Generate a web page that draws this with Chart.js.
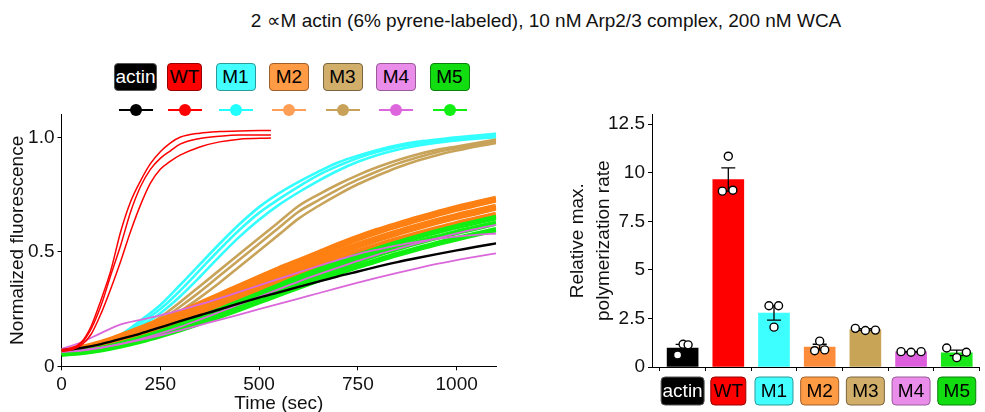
<!DOCTYPE html>
<html>
<head>
<meta charset="utf-8">
<script src="https://cdn.jsdelivr.net/npm/chart.js@4"></script>
<style>
  html, body { margin: 0; padding: 0; width: 985px; height: 412px; overflow: hidden; background: #fff;
    font-family: "Liberation Sans", Arial, sans-serif; color: #111; }
  #title { position: absolute; left: 196px; width: 700px; top: 10px; font-size: 19px; line-height: 22px; text-align: center; }
  #legend { position: absolute; left: 114px; top: 63px; display: flex; gap: 13.5px; }
  .item { display: flex; flex-direction: column; align-items: center; }
  .item:first-child { margin-right: -3.5px; }
  .box { box-sizing: border-box; height: 28px; line-height: 26px; border: 1px solid; border-radius: 4px;
    font-size: 19px; text-align: center; white-space: nowrap; }
  .key { position: relative; width: 34px; height: 12px; margin-top: 13px; }
  .key .line { position: absolute; left: 0; right: 0; top: 5px; height: 2px; }
  .key .dot { position: absolute; left: 11px; top: 0; width: 12px; height: 12px; border-radius: 50%; }
  #traces { position: absolute; left: 0; top: 100px; }
  #rates { position: absolute; left: 565px; top: 100px; }
</style>
</head>
<body>
<div id="title">2 ∝M actin (6% pyrene-labeled), 10 nM Arp2/3 complex, 200 nM WCA</div>
<div id="legend"></div>
<canvas id="traces" width="510" height="315"></canvas>
<canvas id="rates" width="420" height="312"></canvas>
<script>
// conditions
const categories = ['actin', 'WT', 'M1', 'M2', 'M3', 'M4', 'M5'];

// pyrene traces (normalized fluorescence)
const timeWT = [0, 25, 50, 75, 100, 125, 150, 175, 200, 225, 250, 275, 300, 350, 400, 450, 530];
const wtRep1 = [0.072, 0.080, 0.105, 0.175, 0.290, 0.420, 0.590, 0.720, 0.810, 0.885, 0.937, 0.975, 1.000, 1.018, 1.025, 1.028, 1.030];
const wtRep2 = [0.068, 0.076, 0.100, 0.163, 0.265, 0.400, 0.530, 0.675, 0.785, 0.860, 0.908, 0.940, 0.970, 0.995, 1.005, 1.010, 1.010];
const wtRep3 = [0.065, 0.072, 0.092, 0.140, 0.230, 0.340, 0.460, 0.590, 0.705, 0.800, 0.860, 0.895, 0.922, 0.958, 0.980, 0.992, 0.997];

const timeSec = [0, 50, 100, 150, 200, 250, 300, 350, 400, 450, 500, 550, 600, 650, 700, 750, 800, 850, 900, 950, 1000, 1050, 1100];
const actinTrace = [0.070, 0.080, 0.097, 0.120, 0.143, 0.170, 0.197, 0.223, 0.248, 0.275, 0.300, 0.323, 0.347, 0.370, 0.393, 0.414, 0.435, 0.455, 0.473, 0.490, 0.506, 0.522, 0.537];
const m1Rep1 = [0.058, 0.068, 0.094, 0.138, 0.200, 0.268, 0.355, 0.445, 0.535, 0.620, 0.695, 0.755, 0.805, 0.850, 0.890, 0.920, 0.945, 0.965, 0.980, 0.990, 1.000, 1.008, 1.015];
const m1Rep2 = [0.056, 0.065, 0.089, 0.130, 0.188, 0.250, 0.330, 0.420, 0.510, 0.595, 0.670, 0.730, 0.785, 0.835, 0.875, 0.910, 0.937, 0.958, 0.972, 0.984, 0.993, 1.000, 1.008];
const m1Rep3 = [0.054, 0.062, 0.084, 0.122, 0.175, 0.232, 0.305, 0.390, 0.480, 0.565, 0.640, 0.705, 0.760, 0.810, 0.855, 0.893, 0.923, 0.946, 0.963, 0.976, 0.986, 0.994, 1.000];
const m2Rep1 = [0.064, 0.078, 0.100, 0.130, 0.163, 0.197, 0.232, 0.270, 0.308, 0.347, 0.385, 0.422, 0.457, 0.492, 0.527, 0.560, 0.590, 0.617, 0.643, 0.667, 0.690, 0.710, 0.730];
const m2Rep2 = [0.062, 0.075, 0.095, 0.123, 0.153, 0.185, 0.217, 0.252, 0.288, 0.325, 0.360, 0.395, 0.430, 0.464, 0.497, 0.528, 0.557, 0.584, 0.609, 0.633, 0.655, 0.675, 0.695];
const m2Rep3 = [0.060, 0.072, 0.090, 0.116, 0.144, 0.173, 0.203, 0.236, 0.270, 0.304, 0.337, 0.370, 0.403, 0.436, 0.467, 0.497, 0.525, 0.551, 0.575, 0.598, 0.620, 0.640, 0.660];
const m3Rep1 = [0.060, 0.070, 0.090, 0.120, 0.162, 0.215, 0.280, 0.350, 0.420, 0.490, 0.560, 0.630, 0.700, 0.750, 0.795, 0.835, 0.870, 0.900, 0.925, 0.945, 0.960, 0.975, 0.990];
const m3Rep2 = [0.059, 0.068, 0.087, 0.115, 0.153, 0.200, 0.260, 0.325, 0.395, 0.465, 0.535, 0.605, 0.675, 0.725, 0.773, 0.815, 0.852, 0.885, 0.912, 0.935, 0.952, 0.968, 0.982];
const m3Rep3 = [0.058, 0.066, 0.083, 0.108, 0.143, 0.185, 0.240, 0.300, 0.365, 0.435, 0.505, 0.575, 0.645, 0.700, 0.750, 0.795, 0.833, 0.868, 0.898, 0.922, 0.942, 0.960, 0.975];
const m4Rep1 = [0.075, 0.105, 0.145, 0.183, 0.203, 0.222, 0.245, 0.270, 0.297, 0.325, 0.353, 0.382, 0.410, 0.438, 0.465, 0.490, 0.510, 0.528, 0.543, 0.556, 0.566, 0.574, 0.580];
const m4Rep2 = [0.062, 0.069, 0.081, 0.098, 0.119, 0.144, 0.172, 0.204, 0.237, 0.270, 0.303, 0.337, 0.370, 0.401, 0.431, 0.460, 0.488, 0.513, 0.537, 0.559, 0.580, 0.600, 0.618];
const m4Rep3 = [0.065, 0.070, 0.082, 0.097, 0.115, 0.135, 0.157, 0.180, 0.203, 0.226, 0.250, 0.273, 0.296, 0.319, 0.342, 0.365, 0.387, 0.408, 0.428, 0.447, 0.464, 0.479, 0.493];
const m5Rep1 = [0.056, 0.064, 0.078, 0.098, 0.122, 0.149, 0.179, 0.212, 0.246, 0.281, 0.316, 0.352, 0.387, 0.420, 0.452, 0.483, 0.512, 0.539, 0.564, 0.588, 0.610, 0.630, 0.650];
const m5Rep2 = [0.055, 0.062, 0.075, 0.094, 0.117, 0.142, 0.170, 0.201, 0.233, 0.266, 0.300, 0.334, 0.368, 0.400, 0.430, 0.460, 0.489, 0.515, 0.540, 0.563, 0.585, 0.605, 0.625];
const m5Rep3 = [0.054, 0.060, 0.072, 0.089, 0.110, 0.134, 0.160, 0.189, 0.219, 0.250, 0.282, 0.314, 0.346, 0.377, 0.407, 0.436, 0.463, 0.489, 0.513, 0.536, 0.557, 0.577, 0.597];

// relative max polymerization rate
const rateMean = [0.98, 9.65, 2.78, 1.02, 1.93, 0.78, 0.73];
const rateSem = [0.18, 0.60, 0.37, 0.15, 0.04, 0.01, 0.14];
const rateReps = [
  [0.62, 1.17, 1.14],
  [9.05, 10.85, 9.10],
  [3.15, 2.05, 3.15],
  [0.84, 1.33, 0.88],
  [1.99, 1.88, 1.90],
  [0.79, 0.76, 0.79],
  [0.98, 0.48, 0.76]
];
const rateJitter = [
  [-0.11, 0.01, 0.12],
  [-0.13, 0, 0.10],
  [-0.11, 0, 0.10],
  [-0.11, 0, 0.11],
  [-0.22, 0, 0.22],
  [-0.22, 0, 0.22],
  [-0.22, 0, 0.21]
];

// axis ticks
const timeTicks = [0, 250, 500, 750, 1000];
const fluorTicks = [0, 0.5, 1.0];
const rateTicks = [0, 2.5, 5, 7.5, 10, 12.5];

// styles
const traceColors = ['#000000', '#FF0000', '#33FFFF', '#FF8012', '#C8A35A', '#DA68DA', '#11EE11'];
const traceWidths = [2.4, 1.5, 2.6, 7, 2.6, 1.8, 5.5];
const barColors = ['#000000', '#FF0000', '#3DFFFF', '#FF8C3A', '#C8A456', '#DD5EDD', '#18E818'];
const boxFill = ['#000000', '#FF0000', '#44FFFF', '#FF9A45', '#D2AE6B', '#EA8CEA', '#11DD11'];
const boxEdge = ['#555555', '#990000', '#2A9A9A', '#A0602A', '#7A6540', '#9A5A9A', '#0A800A'];
const boxText = ['#FFFFFF', '#000000', '#000000', '#000000', '#000000', '#000000', '#000000'];
const markerColors = ['#000000', '#FF0000', '#22FFFF', '#FF9F55', '#C8A258', '#DD66DD', '#11EE11'];
const legendBoxWidths = [43, 35, 40, 40, 40, 40, 40];
const axisBoxWidths = [43, 35, 38, 38, 38, 38, 38];

const FONT = '"Liberation Sans", Arial, sans-serif';
Chart.defaults.font.family = FONT;
Chart.defaults.font.size = 19;
Chart.defaults.color = '#111';

// html legend above the traces
const legend = document.getElementById('legend');
categories.forEach((c, i) => {
  const item = document.createElement('div');
  item.className = 'item';
  item.innerHTML =
    '<div class="box" style="width:' + legendBoxWidths[i] + 'px;background:' + boxFill[i] +
    ';border-color:' + boxEdge[i] + ';color:' + boxText[i] + '">' + c + '</div>' +
    '<div class="key"><span class="line" style="background:' + markerColors[i] + '"></span>' +
    '<span class="dot" style="background:' + markerColors[i] + '"></span></div>';
  legend.appendChild(item);
});

// traces, listed top-most first
const toPoints = (t, v) => v.map((y, k) => ({ x: t[k], y: y }));
const traceGroups = [
  { cat: 1, time: timeWT, reps: [wtRep1, wtRep2, wtRep3] },
  { cat: 0, time: timeSec, reps: [actinTrace] },
  { cat: 5, time: timeSec, reps: [m4Rep1, m4Rep2, m4Rep3] },
  { cat: 6, time: timeSec, reps: [m5Rep1, m5Rep2, m5Rep3] },
  { cat: 3, time: timeSec, reps: [m2Rep1, m2Rep2, m2Rep3] },
  { cat: 4, time: timeSec, reps: [m3Rep1, m3Rep2, m3Rep3] },
  { cat: 2, time: timeSec, reps: [m1Rep1, m1Rep2, m1Rep3] }
];
const traceSets = [];
traceGroups.forEach(g => {
  g.reps.forEach(r => {
    traceSets.push({
      data: toPoints(g.time, r),
      borderColor: traceColors[g.cat],
      borderWidth: traceWidths[g.cat],
      pointRadius: 0,
      cubicInterpolationMode: 'monotone',
      fill: false
    });
  });
});

const axisStyle = {
  border: { display: true, color: '#000', width: 1 },
  grid: { display: true, drawOnChartArea: false, drawTicks: true, tickLength: 4, color: '#000' }
};

new Chart(document.getElementById('traces'), {
  type: 'line',
  data: { datasets: traceSets },
  options: {
    responsive: false,
    animation: false,
    layout: { padding: { left: 6, top: 14.4, right: 13.8, bottom: 0 } },
    plugins: { legend: { display: false }, tooltip: { enabled: false } },
    scales: {
      x: {
        type: 'linear', min: 0, max: 1100,
        ...axisStyle,
        afterBuildTicks: s => { s.ticks = timeTicks.map(v => ({ value: v })); },
        afterFit: s => { s.height = 48.7; },
        ticks: { padding: 3, callback: v => String(v) },
        title: { display: true, text: 'Time (sec)', padding: 0 }
      },
      y: {
        type: 'linear', min: 0, max: 1.1,
        ...axisStyle,
        afterBuildTicks: s => { s.ticks = fluorTicks.map(v => ({ value: v })); },
        afterFit: s => { s.width = 55.5; },
        ticks: { padding: 3, callback: v => (v === 0 ? '0' : v.toFixed(1)) },
        title: { display: true, text: 'Normalized fluorescence', padding: 0 }
      }
    }
  }
});

// bar chart: error bars and label boxes
const errorBars = {
  id: 'errorBars',
  afterDatasetDraw(chart, args) {
    if (args.index !== 1) return;
    const { ctx, scales: { x, y } } = chart;
    ctx.save();
    ctx.strokeStyle = '#000';
    ctx.lineWidth = 1.3;
    rateMean.forEach((m, i) => {
      const px = x.getPixelForValue(i);
      const hi = y.getPixelForValue(m + rateSem[i]);
      const lo = y.getPixelForValue(m - rateSem[i]);
      ctx.beginPath();
      ctx.moveTo(px, hi); ctx.lineTo(px, lo);
      ctx.moveTo(px - 7, hi); ctx.lineTo(px + 7, hi);
      ctx.moveTo(px - 7, lo); ctx.lineTo(px + 7, lo);
      ctx.stroke();
    });
    ctx.restore();
  }
};

const tickBoxes = {
  id: 'tickBoxes',
  afterDraw(chart) {
    const { ctx, scales: { x }, chartArea } = chart;
    ctx.save();
    ctx.font = '19px ' + FONT;
    ctx.textAlign = 'center';
    ctx.textBaseline = 'middle';
    categories.forEach((c, i) => {
      const px = x.getPixelForValue(i);
      const w = axisBoxWidths[i], h = 28, top = chartArea.bottom + 10;
      ctx.beginPath();
      ctx.roundRect(px - w / 2, top, w, h, 4);
      ctx.fillStyle = boxFill[i];
      ctx.fill();
      ctx.strokeStyle = boxEdge[i];
      ctx.lineWidth = 1;
      ctx.stroke();
      ctx.fillStyle = boxText[i];
      ctx.fillText(c, px, top + h / 2 + 1);
    });
    ctx.restore();
  }
};

const repPoints = [];
rateReps.forEach((reps, i) => reps.forEach((v, k) => repPoints.push({ x: i + rateJitter[i][k], y: v })));

new Chart(document.getElementById('rates'), {
  type: 'bar',
  data: {
    datasets: [
      {
        type: 'scatter',
        data: repPoints,
        pointRadius: 4,
        pointBorderWidth: 1.4,
        pointBorderColor: '#000',
        pointBackgroundColor: '#fff'
      },
      {
        type: 'bar',
        data: rateMean.map((m, i) => ({ x: i, y: m })),
        backgroundColor: barColors,
        borderWidth: 0,
        barThickness: 31
      }
    ]
  },
  options: {
    responsive: false,
    animation: false,
    layout: { padding: { left: 0, top: 13.5, right: 0, bottom: 0 } },
    plugins: { legend: { display: false }, tooltip: { enabled: false } },
    scales: {
      x: {
        type: 'linear', min: -0.67, max: 6.5, offset: false,
        ...axisStyle,
        afterBuildTicks: s => { s.ticks = categories.map((c, i) => ({ value: i })); },
        afterFit: s => { s.height = 45; },
        ticks: { display: false }
      },
      y: {
        type: 'linear', min: 0, max: 13,
        ...axisStyle,
        afterBuildTicks: s => { s.ticks = rateTicks.map(v => ({ value: v })); },
        afterFit: s => { s.width = 87; },
        ticks: { padding: 3, callback: v => String(v) },
        title: { display: true, text: ['Relative max.', 'polymerization rate'], padding: 0,
          font: { size: 19, lineHeight: 1.35 } }
      }
    }
  },
  plugins: [errorBars, tickBoxes]
});
</script>
</body>
</html>
